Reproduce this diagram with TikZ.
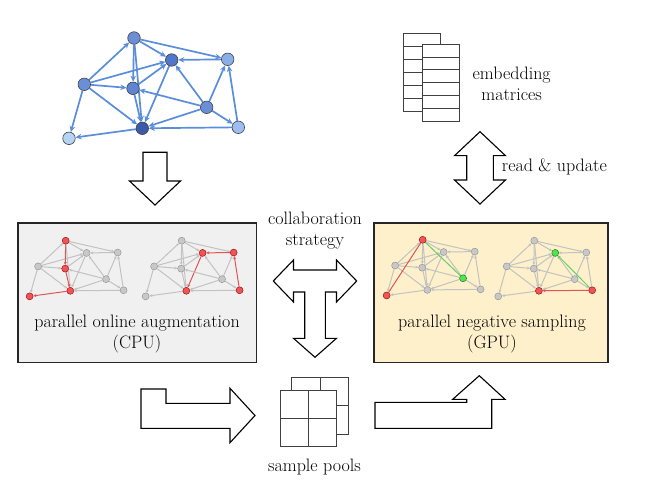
\documentclass[tikz,border=0pt]{standalone}
\usetikzlibrary{arrows.meta}
\definecolor{edgeblue}{HTML}{5A8EDB}
\definecolor{nodeA}{HTML}{6B8FD6}
\definecolor{nodeB}{HTML}{5077CB}
\definecolor{nodeC}{HTML}{8AAFE8}
\definecolor{nodeE}{HTML}{5F84D1}
\definecolor{nodeG}{HTML}{3B5AA8}
\definecolor{nodeH}{HTML}{9DBEF0}
\definecolor{nodeI}{HTML}{B6D2F5}
\definecolor{gnode}{HTML}{C8C8C8}
\definecolor{gedge}{HTML}{C2C2C2}
\definecolor{rednode}{HTML}{F05555}
\definecolor{rededge}{HTML}{E05555}
\definecolor{greennode}{HTML}{55E055}
\definecolor{greenedge}{HTML}{66D066}
\definecolor{cpufill}{HTML}{F0F0F0}
\definecolor{gpufill}{HTML}{FDF0CB}
\pgfdeclarelayer{bg}
\pgfdeclarelayer{edges}
\pgfsetlayers{bg,edges,main}
\tikzset{
  topnode/.style={circle, draw=black!75, line width=0.6pt, minimum size=12.5pt, inner sep=0pt, fill=nodeA},
  smallnode/.style={circle, draw=black!45, line width=0.4pt, minimum size=7pt, inner sep=0pt, fill=gnode},
  topedge/.style={draw=edgeblue, line width=1.7pt, -{Stealth[length=6pt,width=5.5pt]}},
  smalledge/.style={draw=gedge, line width=1pt, -{Stealth[length=3pt,width=3pt]}},
  redn/.style={fill=rednode, draw=red!60!black},
  greenn/.style={fill=greennode, draw=green!45!black},
  rede/.style={draw=rededge},
  greene/.style={draw=greenedge},
  box/.style={draw=black!85, line width=1.2pt},
  bigarrow/.style={draw=black, line width=1.1pt, fill=white, line join=miter},
  grid/.style={draw=black!75, line width=0.8pt},
  lbl/.style={font=\fontsize{18}{21}\selectfont, align=center, inner sep=0pt},
  % per-node / per-edge overrides
  g0-b/.style={fill=nodeB}, g0-c/.style={fill=nodeC}, g0-e/.style={fill=nodeE},
  g0-g/.style={fill=nodeG}, g0-h/.style={fill=nodeH}, g0-i/.style={fill=nodeI},
  g1-a/.style={redn}, g1-e/.style={redn}, g1-g/.style={redn}, g1-i/.style={redn},
  g1-ae/.style={rede}, g1-eg/.style={rede}, g1-gi/.style={rede},
  g2-b/.style={redn}, g2-c/.style={redn}, g2-g/.style={redn}, g2-h/.style={redn},
  g2-bg/.style={rede}, g2-cb/.style={rede}, g2-hc/.style={rede},
  g3-a/.style={redn}, g3-i/.style={redn}, g3-f/.style={greenn},
  g4-b/.style={greenn}, g4-g/.style={redn}, g4-h/.style={redn},
  g4-hg/.style={rede},
}
% #1 prefix, #2 shift, #3 scale, #4 node style, #5 edge style
\newcommand\graphnet[5]{%
  \begin{scope}[shift={#2}, x=#3pt, y=-#3pt]
    \node[#4, #1-a/.try] (#1a) at (0,0) {};
    \node[#4, #1-b/.try] (#1b) at (37.7,22) {};
    \node[#4, #1-c/.try] (#1c) at (93.7,21.3) {};
    \node[#4, #1-d/.try] (#1d) at (-49.7,46.3) {};
    \node[#4, #1-e/.try] (#1e) at (-1,50.3) {};
    \node[#4, #1-f/.try] (#1f) at (72.7,69.3) {};
    \node[#4, #1-g/.try] (#1g) at (8.3,90.3) {};
    \node[#4, #1-h/.try] (#1h) at (104.3,89.3) {};
    \node[#4, #1-i/.try] (#1i) at (-65,100.3) {};
  \end{scope}
  \begin{pgfonlayer}{edges}
    \foreach \s/\t in {a/b, a/c, c/b, d/a, d/b, d/e, d/g, d/i, a/e, a/g, e/b, b/g, e/g, f/b, f/e, f/c, f/g, f/h, h/g, h/c, g/i}
      \draw[#5, #1-\s\t/.try] (#1\s) -- (#1\t);
  \end{pgfonlayer}
}
\begin{document}
\begin{tikzpicture}[x=1pt, y=-1pt]
  \useasboundingbox (0,0) rectangle (648,492);
  \begin{pgfonlayer}{bg}
    \fill[white] (0,0) rectangle (648,492);
    \draw[box, fill=cpufill] (18,223) rectangle (256.5,362.5);
    \draw[box, fill=gpufill] (374,223) rectangle (608,362.5);
  \end{pgfonlayer}

  % ---- top graph
  \graphnet{g0}{(134,38)}{1}{topnode}{topedge}

  % ---- embedding matrices
  \draw[grid, fill=white] (403.3,33.3) rectangle (440,111.7);
  \foreach \k in {1,...,5} \draw[grid] (403.3,{33.3+\k*13.07}) -- (440,{33.3+\k*13.07});
  \draw[grid, fill=white] (422.7,44) rectangle (459,121.7);
  \foreach \k in {1,...,5} \draw[grid] (422.7,{44+\k*12.95}) -- (459,{44+\k*12.95});
  \node[lbl] (emb) at (511.7,84) {embedding\\matrices};

  % ---- big arrows
  \draw[bigarrow] (143,152.3) -- (167,152.3) -- (167,181) -- (180.5,181) -- (155,205)
     -- (129.5,181) -- (143,181) -- cycle;
  \draw[bigarrow] (480,131.7) -- (505.5,155.7) -- (493.3,155.7) -- (493.3,180) -- (505.5,180)
     -- (480,204) -- (454.5,180) -- (466.7,180) -- (466.7,155.7) -- (454.5,155.7) -- cycle;
  \node[lbl, anchor=west] (rw) at (501.7,167) {read \& update};

  \node[lbl] (collab) at (315,230.5) {collaboration\\strategy};
  \draw[bigarrow] (273.3,281) -- (293.5,260) -- (293.5,270) -- (336.5,270) -- (336.5,260)
     -- (356.7,281) -- (336.5,302) -- (336.5,292) -- (325.3,292) -- (325.3,338.3)
     -- (336.5,338.3) -- (315,357.3) -- (293.5,338.3) -- (304.7,338.3) -- (304.7,292)
     -- (293.5,292) -- (293.5,302) -- cycle;

  % ---- box labels
  \node[lbl] (cpu) at (137,334.5) {parallel online augmentation\\(CPU)};
  \node[lbl] (gpu) at (492,334.5) {parallel negative sampling\\(GPU)};

  % ---- small graphs
  \graphnet{g1}{(65.7,240.7)}{0.555}{smallnode}{smalledge}
  \graphnet{g2}{(181.7,240.7)}{0.555}{smallnode}{smalledge}
  \graphnet{g3}{(422.7,239.8)}{0.555}{smallnode}{smalledge}
  \graphnet{g4}{(534.3,240.7)}{0.555}{smallnode}{smalledge}
  \begin{pgfonlayer}{edges}
    \draw[rededge, line width=1pt] (g3a) -- (g3i);
    \draw[greenedge, line width=1pt] (g3a) -- (g3f);
    \draw[smalledge, greene] (g4h) -- (g4b);
  \end{pgfonlayer}

  % ---- bottom arrows
  \draw[bigarrow] (141,389) -- (166,389) -- (166,403.3) -- (230,403.3) -- (230,388.3)
     -- (255,415.5) -- (230,442.7) -- (230,428.3) -- (141,428.3) -- cycle;
  \draw[bigarrow] (375,402.3) -- (466.7,402.3) -- (466.7,399.3) -- (452.7,399.3) -- (479.3,375.7)
     -- (505,399.3) -- (491.7,399.3) -- (491.7,428.3) -- (375,428.3) -- cycle;

  % ---- sample pools
  \draw[grid, fill=white] (291.7,377.3) rectangle (348.3,434);
  \draw[grid] (320,377.3) -- (320,434) (291.7,405.7) -- (348.3,405.7);
  \draw[grid, fill=white] (280.7,390.7) rectangle (336.7,446);
  \draw[grid] (308.7,390.7) -- (308.7,446) (280.7,418.3) -- (336.7,418.3);
  \node[lbl] (pools) at (314.5,467) {sample pools};
\end{tikzpicture}
\end{document}
